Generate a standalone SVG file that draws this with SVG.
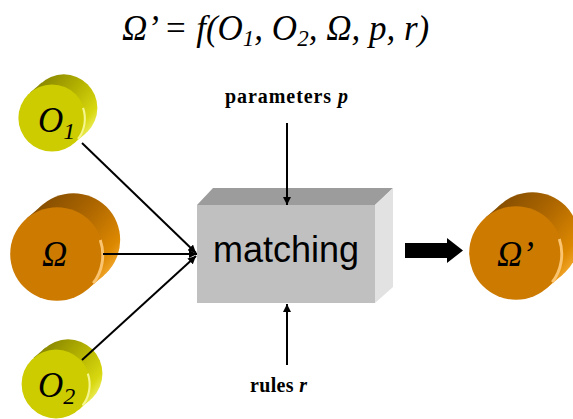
<svg xmlns="http://www.w3.org/2000/svg" xmlns:xlink="http://www.w3.org/1999/xlink" width="573" height="419" viewBox="0 0 573 419">
<style>
.math{font-family:'Liberation Serif','Tinos','DejaVu Serif',serif;font-style:italic;fill:#000}
.lbl{font-family:'Liberation Serif','Tinos','DejaVu Serif',serif;font-weight:bold;font-size:20px;fill:#000}
.box{font-family:'Liberation Sans',Arial,sans-serif;font-size:36px;fill:#000}
.ln{stroke:#000;stroke-width:2;fill:none}
</style>
<defs>
<linearGradient id="sideY" gradientUnits="userSpaceOnUse" x1="-20" y1="-50" x2="52" y2="10">
<stop offset="0" stop-color="#807e00"/><stop offset="0.5" stop-color="#b4b200"/><stop offset="0.85" stop-color="#d8d810"/><stop offset="1" stop-color="#eeee60"/>
</linearGradient>
<linearGradient id="sideO" gradientUnits="userSpaceOnUse" x1="-20" y1="-50" x2="52" y2="10">
<stop offset="0" stop-color="#7c4800"/><stop offset="0.5" stop-color="#b06800"/><stop offset="0.85" stop-color="#dc8800"/><stop offset="1" stop-color="#f4aa30"/>
</linearGradient>
<g id="cylY">
<circle cx="14" cy="-12" r="40" fill="url(#sideY)"/>
<polygon points="26,30.4 40,18.4 -12,-42.4 -26,-30.4" fill="url(#sideY)"/>
<circle cx="0" cy="0" r="40" fill="#cccc00"/>
<path d="M37,-12 A40 40 0 0 1 31,25" stroke="#f6f690" stroke-width="2.5" fill="none"/>
</g>
<g id="cylO">
<circle cx="14" cy="-12" r="40" fill="url(#sideO)"/>
<polygon points="26,30.4 40,18.4 -12,-42.4 -26,-30.4" fill="url(#sideO)"/>
<circle cx="0" cy="0" r="40" fill="#cc7a00"/>
<path d="M37,-12 A40 40 0 0 1 31,25" stroke="#fac470" stroke-width="2.5" fill="none"/>
</g>
<marker id="ah" viewBox="0 0 10 10" refX="10" refY="5" markerWidth="4" markerHeight="4" orient="auto" markerUnits="strokeWidth">
<path d="M0,0 L10,5 L0,10 Z" fill="#000"/>
</marker>
</defs>

<text class="math" x="122" y="40" font-size="35">Ω’ = f(O<tspan font-size="23" dy="6">1</tspan><tspan dy="-6">, O</tspan><tspan font-size="23" dy="6">2</tspan><tspan dy="-6">, Ω, p, r)</tspan></text>

<g id="matching">
<polygon points="197,205 213,188 393,188 375,205" fill="#9c9c9c"/>
<polygon points="375,205 393,188 393,287 375,303" fill="#e2e2e2"/>
<rect x="197" y="205" width="178" height="98" fill="#c0c0c0"/>
<text class="box" x="286" y="262" text-anchor="middle">matching</text>
</g>

<g id="O1">
<use xlink:href="#cylY" transform="translate(52,118) scale(0.84)"/>
<text class="math" x="38" y="132" font-size="35">O<tspan font-size="24" dy="7">1</tspan></text>
</g>
<g id="Omega">
<use xlink:href="#cylO" transform="translate(57,254) scale(1.17)"/>
<text class="math" x="42" y="266" font-size="35">Ω</text>
</g>
<g id="O2">
<use xlink:href="#cylY" transform="translate(56,384) scale(0.86)"/>
<text class="math" x="38" y="397" font-size="35">O<tspan font-size="24" dy="7">2</tspan></text>
</g>
<g id="OmegaPrime">
<use xlink:href="#cylO" transform="translate(516,253) scale(1.17)"/>
<text class="math" x="497" y="266" font-size="35">Ω’</text>
</g>

<g id="params">
<text class="lbl" x="225" y="103" textLength="123" lengthAdjust="spacing">parameters <tspan font-style="italic">p</tspan></text>
</g>
<g id="rules">
<text class="lbl" x="250" y="392" textLength="57" lengthAdjust="spacing">rules <tspan font-style="italic">r</tspan></text>
</g>

<g id="connectors">
<line class="ln" x1="82" y1="143" x2="196" y2="253" marker-end="url(#ah)"/>
<line class="ln" x1="103" y1="254" x2="197" y2="254" stroke-width="3" marker-end="url(#ah)"/>
<line class="ln" x1="82" y1="360" x2="196" y2="256" marker-end="url(#ah)"/>
<line class="ln" x1="287" y1="123" x2="287" y2="205" stroke-width="1.5" marker-end="url(#ah)"/>
<line class="ln" x1="287" y1="365" x2="287" y2="304" stroke-width="1.5" marker-end="url(#ah)"/>
<path d="M405,243 H447 V238 L463,250.5 L447,263 V258 H405 Z" fill="#000"/>
</g>
</svg>
